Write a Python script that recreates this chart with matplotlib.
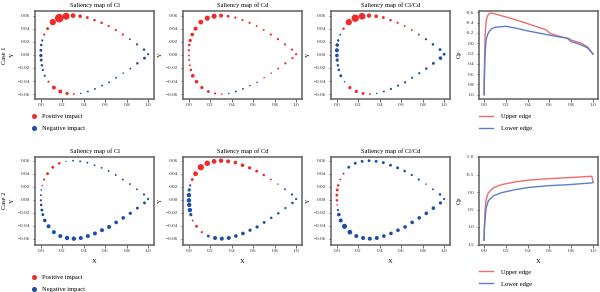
import numpy as np
import matplotlib
matplotlib.use("Agg")
import matplotlib.pyplot as plt
from matplotlib.lines import Line2D

plt.rcParams['font.family'] = ['Liberation Serif', 'DejaVu Serif']

# ---------------- data ----------------
# airfoil sample points: trailing edge, upper surface TE->LE, lower surface LE->TE
x_pts = [1.000,
         0.962, 0.896, 0.830, 0.764, 0.698, 0.632, 0.566, 0.500, 0.433, 0.366,
         0.300, 0.235, 0.171, 0.111, 0.062, 0.031, 0.012, 0.003, 0.000,
         0.000, 0.003, 0.009, 0.018, 0.036, 0.071, 0.121, 0.181, 0.244, 0.307,
         0.372, 0.438, 0.504, 0.570, 0.636, 0.702, 0.768, 0.834, 0.900, 0.966]
y_pts = [0.001,
         0.008, 0.016, 0.024, 0.031, 0.038, 0.044, 0.049, 0.053, 0.057, 0.059,
         0.060, 0.059, 0.056, 0.050, 0.040, 0.031, 0.022, 0.015, 0.007,
         -0.001, -0.008, -0.016, -0.023, -0.032, -0.041, -0.050, -0.056, -0.059, -0.060,
         -0.059, -0.056, -0.052, -0.047, -0.042, -0.035, -0.028, -0.021, -0.013, -0.005]

# signed saliency (positive = positive impact, negative = negative impact)
sal_cl_1 = [-5,
            -6, -5, -4, 5, 5, 5, 6, 6, 7, 9, 12, 18, 22, 16, 7, 5, -5, -6, -7,
            -8, -7, -6, -5, -5, 5, 10, 10, 8, 4, -3, -4, -4, -4, -4, -4, -3, -4, -6, -7]
sal_cd_1 = [5,
            5, 5, 5, 5, 4, 4, 5, 5, 5, 7, 10, 13, 13, 12, 10, 9, 8, 6, 5,
            4, 4, 4, 6, 9, 9, 8, 7, 5, 3, -3, -4, -4, -3, -3, 3, 3, 4, 5, 5]
sal_clcd_1 = [-7,
              -7, -6, -5, -4, 4, 4, 5, 6, 7, 9, 11, 17, 19, 16, 6, -4, -6, -9, -10,
              -9, -8, -6, -6, -7, -3, 8, 8, 7, 4, -3, -4, -5, -5, -5, -5, -5, -6, -7, -9]
sal_cl_2 = [-5,
            -5, -4, -4, -4, -4, -4, -4, -4, -4, -4, -4, -2, 6, 7, 7, 5, 3, -3, -4,
            -5, -6, -7, -7, -9, -10, -10, -10, -11, -11, -10, -10, -10, -10, -10, -9, -9, -8, -7, -7]
sal_cd_2 = [-5,
            -5, -4, 3, 4, 6, 7, 8, 9, 9, 10, 11, 12, 14, 16, 12, 7, -5, -8, -11,
            -11, -11, -11, -8, 4, 7, 5, -7, -10, -10, -10, -9, -9, -8, -8, -7, -6, -6, -5, -6]
sal_clcd_2 = [-5,
              -6, -4, -3, -5, -5, -6, -7, -7, -7, -7, -7, -7, -7, -7, -4, 4, 6, 7, 7,
              6, 3, -5, -9, -10, -13, -12, -10, -10, -10, -10, -9, -9, -9, -9, -9, -9, -9, -9, -8]

# pressure coefficient distributions
cp1_x = [0.0, 0.005, 0.01, 0.02, 0.037, 0.052, 0.07, 0.1, 0.2, 0.3, 0.4, 0.5, 0.57,
         0.58, 0.6, 0.62, 0.7, 0.76, 0.78, 0.8, 0.85, 0.9, 0.95, 1.0]
cp1_upper = [1.0, 0.3, -0.15, -0.45, -0.55, -0.58, -0.585, -0.57, -0.51, -0.45, -0.38,
             -0.31, -0.26, -0.24, -0.20, -0.18, -0.13, -0.10, -0.09, -0.06, -0.03, 0.01, 0.07, 0.21]
cp1_lower = [1.0, 0.55, 0.2, -0.08, -0.19, -0.24, -0.28, -0.31, -0.33, -0.29, -0.24,
             -0.20, -0.17, -0.165, -0.16, -0.15, -0.12, -0.10, -0.07, -0.03, 0.0, 0.04, 0.09, 0.21]

cp2_x = [0.0, 0.003, 0.01, 0.02, 0.04, 0.086, 0.16, 0.29, 0.41, 0.59, 0.78, 0.99, 1.0]
cp2_upper = [1.38, 1.0, 0.5, 0.21, 0.02, -0.12, -0.21, -0.29, -0.34, -0.38, -0.41, -0.45, -0.28]
cp2_lower = [1.38, 1.1, 0.75, 0.45, 0.25, 0.11, 0.02, -0.07, -0.13, -0.18, -0.21, -0.26, -0.27]

titles = ["Saliency map of Cl", "Saliency map of Cd", "Saliency map of Cl/Cd"]
case_labels = ["Case 1", "Case 2"]
legend_scatter = ["Positive impact", "Negative impact"]
legend_cp = ["Upper edge", "Lower edge"]

# ---------------- styling ----------------
RED = '#ee2b2b'
BLUE = '#1d4fa6'
LRED = '#f26a70'
LBLUE = '#5d7fc9'
SPINE = '#606060'
W, H = 600, 292
TICK_FS = 3.8
LAB_FS = 4.7

fig = plt.figure(figsize=(6, 2.92), dpi=100)

lefts = [35, 183, 331, 479]
tops = [11, 157]
aw, ah = 119, 87.5


def make_ax(col, row):
    l = lefts[col]
    t = tops[row]
    return fig.add_axes([l / W, 1 - (t + ah) / H, aw / W, ah / H])


def style(ax):
    for s in ax.spines.values():
        s.set_color(SPINE)
        s.set_linewidth(1.1)
    ax.tick_params(labelsize=TICK_FS, length=1.8, width=0.5, pad=1.5, colors='#333333')


sal_sets = [[sal_cl_1, sal_cd_1, sal_clcd_1], [sal_cl_2, sal_cd_2, sal_clcd_2]]
xs = np.array(x_pts)
ys = np.array(y_pts)
K = 1.0 / (3 * 1.389)

for row in range(2):
    for col in range(3):
        ax = make_ax(col, row)
        v = np.array(sal_sets[row][col], dtype=float)
        colors = [RED if a > 0 else BLUE for a in v]
        sizes = (np.abs(v) * K) ** 2 * 1.35 + 0.6
        ax.scatter(xs, ys, s=sizes, c=colors, linewidths=0, zorder=3)
        ax.set_xlim(-0.055, 1.055)
        if row == 0:
            ax.set_ylim(-0.0667, 0.067)
        else:
            ax.set_ylim(-0.069, 0.0657)
        ax.set_xticks([0.0, 0.2, 0.4, 0.6, 0.8, 1.0])
        ax.set_yticks([-0.06, -0.04, -0.02, 0.0, 0.02, 0.04, 0.06])
        ax.xaxis.set_major_formatter(matplotlib.ticker.FormatStrFormatter('%.1f'))
        ax.yaxis.set_major_formatter(matplotlib.ticker.FuncFormatter(
            lambda val, p: ('%.2f' % val).replace('-', '\u2212') if abs(val) > 1e-9 else '0.00'))
        style(ax)
        ax.set_title(titles[col], fontsize=LAB_FS, pad=3)
        ax.set_ylabel('Y', fontsize=LAB_FS, labelpad=2)
        if row == 1:
            ax.set_xlabel('X', fontsize=LAB_FS, labelpad=4)
        if col == 0:
            handles = [Line2D([], [], marker='o', ls='none', color=RED, markersize=2.6),
                       Line2D([], [], marker='o', ls='none', color=BLUE, markersize=2.6)]
            yanchor = -0.17 if row == 0 else -0.34
            ax.legend(handles, legend_scatter, loc='upper left', bbox_to_anchor=(-0.04, yanchor),
                      frameon=False, fontsize=LAB_FS, handlelength=1.0, handletextpad=0.8,
                      labelspacing=1.0, borderpad=0, borderaxespad=0)

    # Cp panel
    ax = make_ax(3, row)
    if row == 0:
        ax.plot(cp1_x, cp1_upper, color=LRED, lw=1.0)
        ax.plot(cp1_x, cp1_lower, color=LBLUE, lw=1.0)
        ax.set_ylim(1.073, -0.626)
        ax.set_yticks([-0.6, -0.4, -0.2, 0.0, 0.2, 0.4, 0.6, 0.8, 1.0])
        ax.yaxis.set_major_formatter(matplotlib.ticker.FormatStrFormatter('%.1f'))
    else:
        ax.plot(cp2_x, cp2_upper, color=LRED, lw=1.0)
        ax.plot(cp2_x, cp2_lower, color=LBLUE, lw=1.0)
        ax.set_ylim(1.5, -1.0)
        ax.set_yticks([-1.0, -0.5, 0.0, 0.5, 1.0, 1.5])
        ax.yaxis.set_major_formatter(matplotlib.ticker.FormatStrFormatter('%.1f'))
        ax.set_xlabel('X', fontsize=LAB_FS, labelpad=4)
    ax.set_xlim(-0.046, 1.046)
    ax.set_xticks([0.0, 0.2, 0.4, 0.6, 0.8, 1.0])
    ax.xaxis.set_major_formatter(matplotlib.ticker.FormatStrFormatter('%.1f'))
    style(ax)
    ax.set_ylabel('Cp', fontsize=LAB_FS, labelpad=3)
    handles = [Line2D([], [], color=LRED, lw=1.0), Line2D([], [], color=LBLUE, lw=1.0)]
    yanchor = -0.17 if row == 0 else -0.28
    ax.legend(handles, legend_cp, loc='upper left', bbox_to_anchor=(0.0, yanchor),
              frameon=False, fontsize=LAB_FS, handlelength=2.2, handletextpad=1.2,
              labelspacing=1.0, borderpad=0, borderaxespad=0)

    # case label
    t = tops[row]
    fig.text(4 / W, 1 - (t + ah / 2) / H, case_labels[row], rotation=90,
             fontsize=LAB_FS, ha='center', va='center')

fig.savefig('out.png', dpi=100)
